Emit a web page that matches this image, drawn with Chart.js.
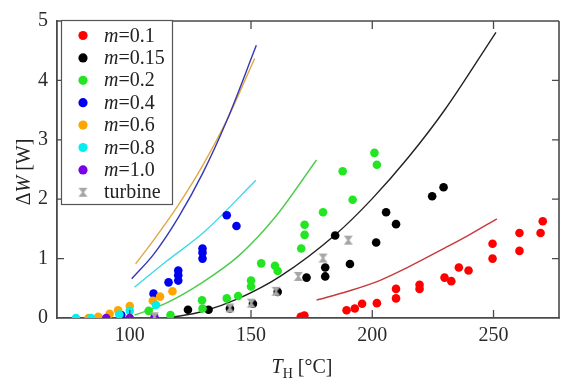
<!DOCTYPE html>
<html>
<head>
<meta charset="utf-8">
<script src="https://cdn.jsdelivr.net/npm/chart.js@4/dist/chart.umd.min.js"></script>
<style>
html,body{margin:0;padding:0;background:#fff;}
#wrap{width:565px;height:379px;position:relative;}
</style>
</head>
<body>
<div id="wrap"><canvas id="c" width="565" height="379"></canvas></div>
<script>
// ---- axis ranges & ticks ----
const xMin = 70, xMax = 277;
const yMin = 0, yMax = 5;
const xTicks = [100, 150, 200, 250];
const yTicks = [0, 1, 2, 3, 4, 5];

// ---- measured points ----
const redT = [170.5, 172, 189.4, 192.8, 195.8, 201.9, 209.8, 209.8, 219.5, 219.5, 229.8, 232.6, 235.7, 239.7, 249.6, 249.6, 260.7, 260.7, 269.4, 270.3];
const redW = [0.02, 0.04, 0.13, 0.16, 0.24, 0.25, 0.33, 0.49, 0.49, 0.56, 0.68, 0.62, 0.85, 0.80, 1.25, 1.00, 1.43, 1.13, 1.43, 1.63];

const blackT = [124, 132.5, 141.3, 150.8, 161, 172.9, 180.6, 180.6, 184.7, 190.8, 201.6, 205.7, 209.8, 224.7, 229.4];
const blackW = [0.14, 0.14, 0.16, 0.24, 0.44, 0.68, 0.85, 0.70, 1.39, 0.91, 1.27, 1.78, 1.58, 2.05, 2.20];

const greenT = [107.8, 116.8, 129.8, 130, 140, 144.7, 150, 150, 154.2, 159.9, 161, 170.7, 172.1, 172.1, 179.7, 187.8, 191.9, 200.9, 201.9];
const greenW = [0.12, 0.05, 0.30, 0.16, 0.33, 0.37, 0.63, 0.53, 0.92, 0.88, 0.79, 1.17, 1.40, 1.57, 1.78, 2.47, 1.99, 2.78, 2.58];

const blueT = [96.5, 109.8, 116, 120, 120, 120, 130, 130, 130, 140, 144];
const blueW = [0.05, 0.41, 0.60, 0.63, 0.72, 0.80, 1.00, 1.10, 1.17, 1.73, 1.55];

const orangeT = [83, 87, 91.7, 95.2, 100, 109.5, 112.5, 117.6];
const orangeW = [0.0, 0.02, 0.07, 0.13, 0.20, 0.29, 0.36, 0.45];

const cyanT = [77.8, 84, 95.7, 100, 110.8];
const cyanW = [0.0, 0.0, 0.06, 0.12, 0.22];

const purpleT = [90.3, 100, 110.2];
const purpleW = [0.0, 0.0, 0.01];

const turbineT = [110.2, 141.3, 150.1, 160.3, 169.5, 179.7, 190.1];
const turbineW = [0.02, 0.17, 0.25, 0.45, 0.70, 1.01, 1.31];

// ---- model curves ----
const redLineT = [177, 190, 203, 215, 230, 240, 251.4];
const redLineW = [0.30, 0.45, 0.63, 0.86, 1.18, 1.40, 1.67];
const blackLineT = [116, 130, 145, 162, 185, 200, 215, 230, 251];
const blackLineW = [0.0, 0.11, 0.33, 0.70, 1.41, 2.01, 2.71, 3.51, 4.81];
const greenLineT = [102, 115, 130, 145, 160, 177];
const greenLineW = [0.05, 0.25, 0.60, 1.05, 1.70, 2.66];
const cyanLineT = [102, 115, 131, 152];
const cyanLineW = [0.52, 0.95, 1.46, 2.32];
const blueLineT = [100.8, 110, 120, 130, 140, 152.2];
const blueLineW = [0.66, 1.08, 1.69, 2.43, 3.32, 4.59];
const orangeLineT = [102.4, 110, 120, 130, 140, 151.5];
const orangeLineW = [0.91, 1.32, 1.90, 2.56, 3.33, 4.37];

// ---- legend labels ----
const legendLabels = ["0.1", "0.15", "0.2", "0.4", "0.6", "0.8", "1.0", "turbine"];

function pts(xs, ys) { return xs.map((x, i) => ({x: x, y: ys[i]})); }

// hourglass marker for turbine
function hourglass(size, color) {
  const c = document.createElement('canvas');
  c.width = size; c.height = size;
  const g = c.getContext('2d');
  g.fillStyle = color;
  g.beginPath();
  g.moveTo(1, 1); g.lineTo(size - 1, 1); g.lineTo(size / 2 + 1, size / 2); g.lineTo(size - 1, size - 1);
  g.lineTo(1, size - 1); g.lineTo(size / 2 - 1, size / 2); g.closePath();
  g.fill();
  return c;
}
const hgImg = hourglass(11, '#a6a6a6');

const R = 4.3;
const ptColors = ['#ff0000', '#000000', '#22e622', '#0000f0', '#ffa500', '#00f0f0', '#7a00e6'];

function scatterDS(label, xs, ys, color, order) {
  return {type: 'scatter', label: label, data: pts(xs, ys), backgroundColor: color, borderColor: color,
    borderWidth: 0, pointRadius: R, pointHoverRadius: R, order: order, showLine: false};
}
function lineDS(xs, ys, color) {
  return {type: 'line', data: pts(xs, ys), borderColor: color, borderWidth: 1.4, pointRadius: 0,
    fill: false, cubicInterpolationMode: 'monotone', order: 100};
}

const datasets = [
  lineDS(redLineT, redLineW, '#c83a3a'),
  lineDS(blackLineT, blackLineW, '#222222'),
  lineDS(greenLineT, greenLineW, '#4ccc4c'),
  lineDS(cyanLineT, cyanLineW, '#40d8e8'),
  lineDS(blueLineT, blueLineW, '#3636b8'),
  lineDS(orangeLineT, orangeLineW, '#e0a840'),
  scatterDS('m=0.1', redT, redW, ptColors[0], 8),
  scatterDS('m=0.15', blackT, blackW, ptColors[1], 7),
  scatterDS('m=0.2', greenT, greenW, ptColors[2], 6),
  scatterDS('m=0.4', blueT, blueW, ptColors[3], 5),
  scatterDS('m=0.6', orangeT, orangeW, ptColors[4], 4),
  scatterDS('m=0.8', cyanT, cyanW, ptColors[5], 3),
  scatterDS('m=1.0', purpleT, purpleW, ptColors[6], 2),
  {type: 'scatter', label: 'turbine', data: pts(turbineT, turbineW), pointStyle: hgImg, pointRadius: 5, order: 1}
];

const AX = '#4a4a4a';
const FONT = "'Liberation Serif', 'DejaVu Serif', serif";

const framePlugin = {
  id: 'frame',
  afterDraw(chart) {
    const ctx = chart.ctx, a = chart.chartArea;
    const xs = chart.scales.x, ys = chart.scales.y;
    ctx.save();
    ctx.strokeStyle = AX; ctx.lineWidth = 1.6;
    // top & right frame
    ctx.beginPath();
    ctx.moveTo(a.left, a.top); ctx.lineTo(a.right, a.top);
    ctx.moveTo(a.right, a.top); ctx.lineTo(a.right, a.bottom);
    ctx.stroke();
    ctx.lineWidth = 1.3;
    ctx.beginPath();
    xTicks.forEach(v => {
      const px = xs.getPixelForValue(v);
      ctx.moveTo(px, a.bottom); ctx.lineTo(px, a.bottom - 8);
      ctx.moveTo(px, a.top); ctx.lineTo(px, a.top + 8);
    });
    yTicks.forEach(v => {
      if (v === yMin || v === yMax) return;
      const py = ys.getPixelForValue(v);
      ctx.moveTo(a.left, py); ctx.lineTo(a.left + 7, py);
      ctx.moveTo(a.right, py); ctx.lineTo(a.right - 7, py);
    });
    ctx.stroke();

    // legend box
    const lx = 61, ly = 20, lw = 111, lh = 184;
    ctx.fillStyle = '#fff';
    ctx.fillRect(lx, ly, lw, lh);
    ctx.strokeStyle = '#555'; ctx.lineWidth = 1.2;
    ctx.strokeRect(lx + 0.5, ly + 0.5, lw, lh);
    const rowY0 = 35.5, dy = 22.4;
    legendLabels.forEach((lab, i) => {
      const cy = rowY0 + i * dy;
      if (i < 7) {
        ctx.fillStyle = ptColors[i];
        ctx.beginPath(); ctx.arc(83, cy, R + 0.3, 0, Math.PI * 2); ctx.fill();
      } else {
        ctx.drawImage(hgImg, 83 - 5.5, cy - 5.5);
      }
      ctx.fillStyle = '#222';
      ctx.textBaseline = 'alphabetic';
      ctx.textAlign = 'left';
      const base = cy + 6;
      if (i < 7) {
        ctx.font = "italic 20px " + FONT;
        ctx.fillText('m', 104, base);
        const w = ctx.measureText('m').width;
        ctx.font = "20px " + FONT;
        ctx.fillText('=' + lab, 104 + w, base);
      } else {
        ctx.font = "20px " + FONT;
        ctx.fillText(lab, 104, base);
      }
    });

    // axis titles
    ctx.fillStyle = '#222';
    // y title: ΔW [W]
    ctx.save();
    ctx.translate(30, 172);
    ctx.rotate(-Math.PI / 2);
    ctx.textBaseline = 'alphabetic';
    ctx.font = "20px " + FONT;
    const p1 = 'Δ', p3 = ' [W]';
    const w1 = ctx.measureText(p1).width, w3 = ctx.measureText(p3).width;
    ctx.font = "italic 20px " + FONT;
    const w2 = ctx.measureText('W').width;
    const tot = w1 + w2 + w3;
    let sx = -tot / 2;
    ctx.font = "20px " + FONT; ctx.textAlign = 'left';
    ctx.fillText(p1, sx, 0); sx += w1;
    ctx.font = "italic 20px " + FONT; ctx.fillText('W', sx, 0); sx += w2;
    ctx.font = "20px " + FONT; ctx.fillText(p3, sx, 0);
    ctx.restore();

    // x title: T_H [°C]
    ctx.save();
    ctx.textBaseline = 'alphabetic'; ctx.textAlign = 'left';
    ctx.font = "italic 20px " + FONT;
    const tw = ctx.measureText('T').width;
    ctx.font = "14px " + FONT;
    const hw = ctx.measureText('H').width;
    ctx.font = "20px " + FONT;
    const cw = ctx.measureText(' [°C]').width;
    const total = tw + hw + cw;
    let x0 = 302 - total / 2;
    const by = 373;
    ctx.font = "italic 20px " + FONT; ctx.fillText('T', x0, by); x0 += tw;
    ctx.font = "14px " + FONT; ctx.fillText('H', x0, by + 5); x0 += hw;
    ctx.font = "20px " + FONT; ctx.fillText(' [°C]', x0, by);
    ctx.restore();
    ctx.restore();
  }
};

new Chart(document.getElementById('c'), {
  data: {datasets: datasets},
  options: {
    responsive: false,
    animation: false,
    events: [],
    layout: {padding: {top: 17, right: 0, left: 0, bottom: 0}},
    plugins: {legend: {display: false}, tooltip: {enabled: false}},
    scales: {
      x: {
        type: 'linear', min: xMin, max: xMax,
        afterFit(s) { s.height = 61; },
        afterBuildTicks(s) { s.ticks = xTicks.map(v => ({value: v})); },
        grid: {display: false, drawTicks: false},
        border: {display: true, color: AX, width: 1.8},
        ticks: {color: '#2a2a2a', font: {family: FONT, size: 20}, padding: 6, maxRotation: 0}
      },
      y: {
        type: 'linear', min: yMin, max: yMax,
        afterFit(s) { s.width = 57; },
        afterBuildTicks(s) { s.ticks = yTicks.map(v => ({value: v})); },
        grid: {display: false, drawTicks: false},
        border: {display: true, color: AX, width: 1.8},
        ticks: {color: '#2a2a2a', font: {family: FONT, size: 20}, padding: 9}
      }
    }
  },
  plugins: [framePlugin]
});
</script>
</body>
</html>
